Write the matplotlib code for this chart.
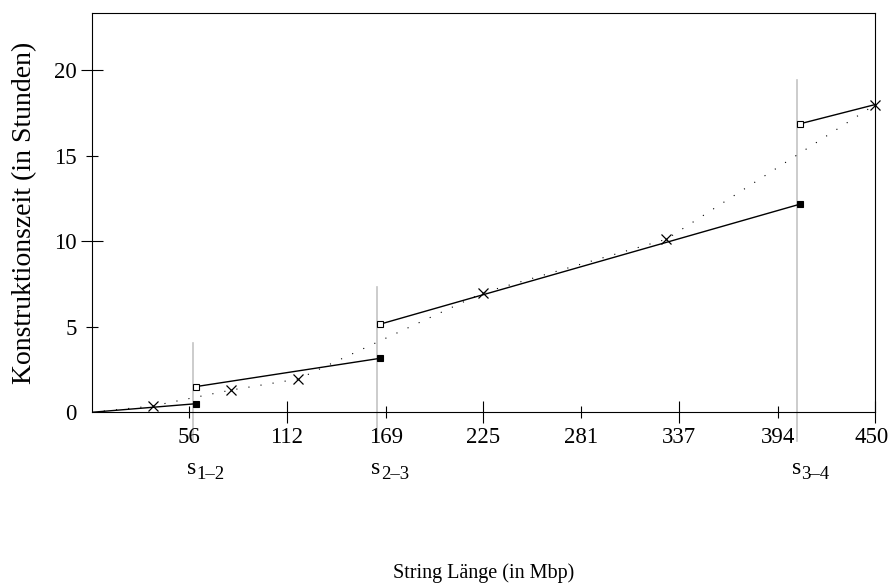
import matplotlib
matplotlib.use('Agg')
import matplotlib.pyplot as plt
import matplotlib.transforms as mtransforms
import numpy as np

plt.rcParams['font.family'] = ['Liberation Serif', 'DejaVu Serif']

# measured construction times (crosses + dotted line)
meas_x = [0, 35, 80, 118.7, 225, 330, 450]
meas_y = [0.0, 0.37, 1.30, 1.95, 7.0, 10.12, 18.0]

# piecewise model: segments with jumps at the split points
seg_x0 = [0, 59.7, 165.8, 407.0]
seg_y0 = [0.0, 1.50, 5.16, 16.88]
seg_x1 = [59.7, 165.8, 407.0, 450]
seg_y1 = [0.50, 3.16, 12.18, 18.0]

# split points (grey verticals) and their labels
split_x = [58.0, 163.7, 405.2]
split_top = [4.05, 7.33, 19.43]
split_subs = ['1\u20132', '2\u20133', '3\u20134']

x_major = [112, 225, 337, 450]
x_minor = [56, 169, 281, 394]
y_major = [0, 10, 20]
y_minor = [5, 15]

fs = 16.5
fig = plt.figure(figsize=(8.9, 5.83), dpi=100)
ax = fig.add_axes([0.103, 0.2928, 0.8805, 0.6854])

for sx, top in zip(split_x, split_top):
    ax.plot([sx, sx], [-1.68, top], color='#c4c4c4', lw=1.2, clip_on=False, zorder=1)

ax.plot(meas_x, meas_y, color='black', lw=0.8, linestyle=(0, (1, 10)),
        dash_capstyle='butt', zorder=2)
ax.plot(meas_x[1:], meas_y[1:], linestyle='none', marker='x', ms=7,
        mew=0.9, color='black', clip_on=False, zorder=4)

for x0, y0, x1, y1 in zip(seg_x0, seg_y0, seg_x1, seg_y1):
    ax.plot([x0, x1], [y0, y1], color='black', lw=1.0, zorder=3)

ax.plot(seg_x1[:3], seg_y1[:3], linestyle='none', marker='s', ms=4.3,
        mfc='black', mec='black', mew=0.8, zorder=5)
ax.plot(seg_x0[1:], seg_y0[1:], linestyle='none', marker='s', ms=4.3,
        mfc='white', mec='black', mew=0.8, zorder=5)

for sx, sub in zip(split_x, split_subs):
    s_txt = ax.annotate('s', xy=(sx, -3.3), xytext=(-4, 0), textcoords='offset points',
                        ha='left', va='center', fontsize=17, annotation_clip=False)
    ax.annotate(sub, xy=(1, 0.22), xycoords=s_txt, xytext=(0.3, 0),
                textcoords='offset points', ha='left', va='center', fontsize=13.5)

ax.set_xlim(0, 450)
ax.set_ylim(0, 23.37)

ax.set_xticks(x_major)
ax.set_xticks(x_minor, minor=True)
ax.set_xticklabels([str(v) for v in x_major])
ax.set_xticklabels([str(v) for v in x_minor], minor=True)
ax.set_yticks(y_major)
ax.set_yticks(y_minor, minor=True)
ax.set_yticklabels([str(v) for v in y_major])
ax.set_yticklabels([str(v) for v in y_minor], minor=True)

ax.tick_params(which='major', direction='inout', length=16, width=0.8,
               labelsize=fs, pad=2.8)
ax.tick_params(which='minor', direction='inout', length=8, width=0.8,
               labelsize=fs, pad=6.8)
ax.yaxis.get_major_ticks()[0].tick1line.set_visible(False)

# keep the last x label inside the canvas
last = ax.get_xticklabels()[-1]
last.set_transform(last.get_transform() +
                   mtransforms.ScaledTranslation(-3 / 72, 0, fig.dpi_scale_trans))

for sp in ax.spines.values():
    sp.set_linewidth(0.8)

ax.set_xlabel('String Länge (in Mbp)', fontsize=14.5, labelpad=83)
ax.set_ylabel('Konstruktionszeit (in Stunden)', fontsize=20, labelpad=12)

fig.savefig('out.png', dpi=100)
